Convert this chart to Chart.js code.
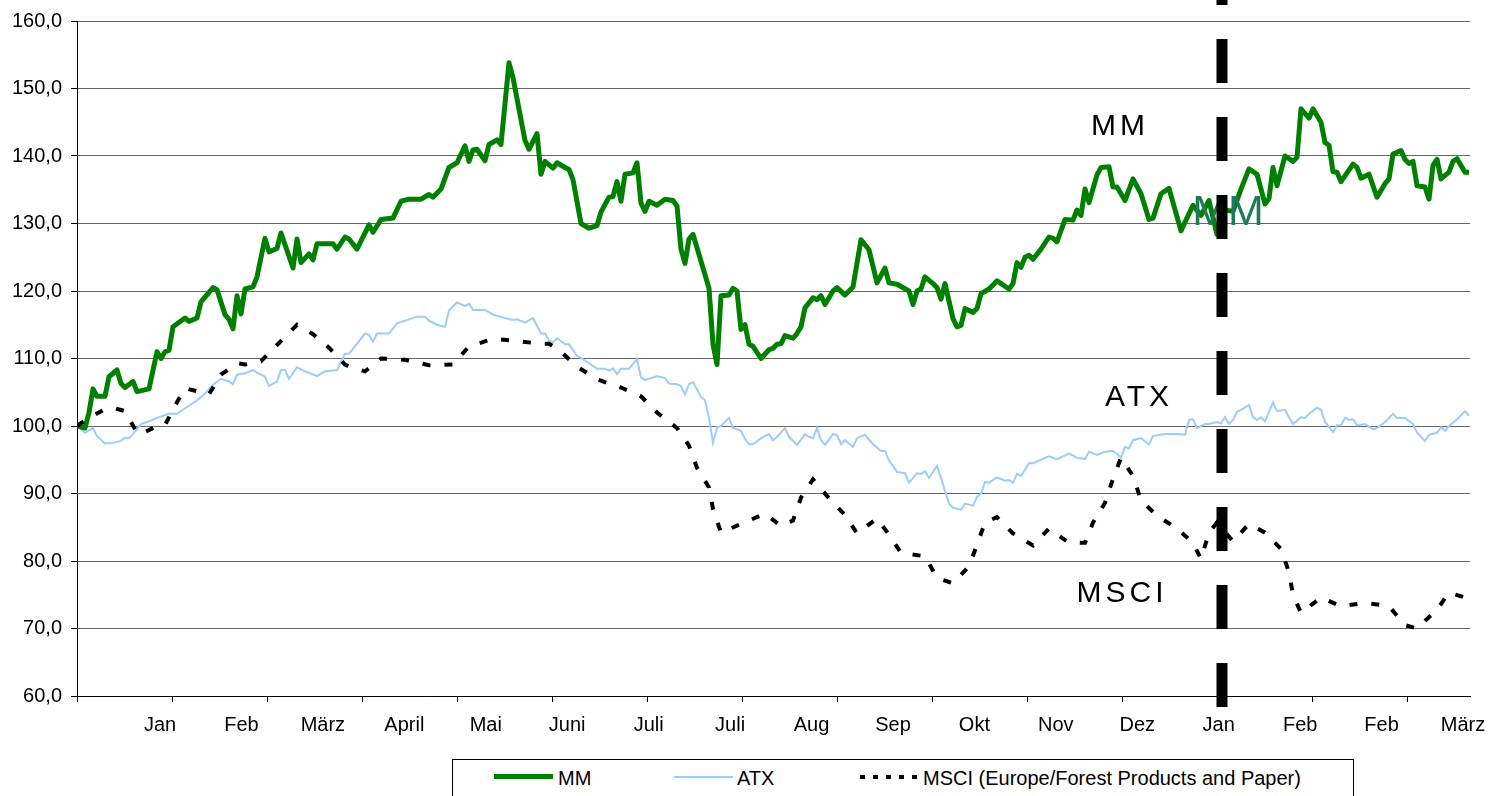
<!DOCTYPE html>
<html>
<head>
<meta charset="utf-8">
<script src="https://cdn.jsdelivr.net/npm/chart.js@4.4.1/dist/chart.umd.min.js"></script>
<style>
  body { margin: 0; background: #fff; }
  #wrap { position: relative; width: 1491px; height: 796px; overflow: hidden; }
  #legend { position: absolute; left: 452px; top: 759px; width: 902px; height: 60px;
            border: 1px solid #000; box-sizing: border-box; background: #fff;
            font-family: "Liberation Sans", Arial, sans-serif; font-size: 20px; color: #000; }
  #legend span { position: absolute; }
  #legend .txt { top: 6px; line-height: 24px; white-space: nowrap; }
</style>
</head>
<body>
<div id="wrap">
  <canvas id="myChart" width="1491" height="796"></canvas>
  <div id="legend">
    <span style="left:41px; top:14px; width:59px; height:5px; background:#008000;"></span>
    <span class="txt" style="left:105px;">MM</span>
    <span style="left:221px; top:16px; width:59px; height:2px; background:#99ccff;"></span>
    <span class="txt" style="left:284px;">ATX</span>
    <span style="left:407px; top:15px; width:58px; height:4px; background:repeating-linear-gradient(to right, #000 0 5px, transparent 5px 13px);"></span>
    <span class="txt" style="left:470px;">MSCI (Europe/Forest Products and Paper)</span>
  </div>
</div>
<script>
var FONT = '"Liberation Sans", Arial, sans-serif';

// x axis: trading-day index, month labels and tick marks
var xLabels = ["Jan", "Feb", "März", "April", "Mai", "Juni", "Juli", "Juli", "Aug", "Sep", "Okt", "Nov", "Dez", "Jan", "Feb", "Feb", "März"];
var LABEL_FIRST = 20.75;
var LABEL_STEP = 20.36;
var TICK_STEP = 23.75;
var DAY_MAX = 348.25;
var SPLIT_DAY = 286.25;

var mmDays = [0,2,3,4,5,7,8,10,11,12,14,15,18,20,21,22,23,24,27,28,30,31,34,35,37,38,39,40,41,42,44,45,47,48,50,51,54,55,56,58,59,60,64,65,67,68,70,73,74,76,79,81,83,86,88,89,91,93,95,97,98,99,100,102,103,105,106,108,109,112,113,115,116,117,119,120,122,123,124,126,128,130,131,133,134,135,136,137,139,140,141,142,143,145,147,149,150,151,152,153,154,157,158,159,160,161,163,164,165,166,167,168,169,171,173,174,175,176,177,179,180,181,182,184,185,186,187,189,190,192,194,196,198,200,202,203,205,208,209,210,211,212,214,215,216,217,219,220,221,222,224,225,226,228,229,230,233,234,235,236,237,238,239,241,243,244,245,247,249,250,251,252,253,255,256,258,259,260,262,264,266,268,269,271,273,276,277,279,281,283,285,287,289,291,293,295,297,298,299,300,302,304,305,306,308,309,311,312,313,314,315,316,319,320,321,323,325,327,328,329,331,332,333,334,335,337,338,339,340,341,343,344,345,347,348];
var mmValues = [100,99.7,102,105.5,104.4,104.4,107.3,108.3,106.3,105.7,106.6,105.1,105.5,111,110,111,111.2,114.7,116,115.5,116,118.4,120.5,120.2,116.5,115.8,114.4,119.3,116.6,120.3,120.6,122.1,127.8,125.8,126.3,128.6,123.4,127.7,124.2,125.5,124.6,127,127,126.2,128,127.7,126.2,129.8,128.7,130.6,130.8,133.3,133.6,133.6,134.3,133.9,135.1,138.3,139,141.5,139.2,140.9,141,139.3,141.7,142.4,141.7,153.8,151.6,142.3,141,143.3,137.3,139.2,138.2,139,138.3,138,136.5,130,129.3,129.7,131.7,133.9,134,136.2,133.3,137.3,137.5,139,133,131.8,133.3,132.7,133.6,133.4,132.6,126.2,124.1,127.7,128.4,122.4,120.4,112.1,109.1,119.3,119.4,120.4,120,114.3,115,112.1,111.8,110,111.3,111.5,112.1,112.2,113.4,113,113.7,114.7,117.5,119,118.7,119.3,118,120,120.5,119.4,120.6,127.6,126.1,121.2,123.4,121.2,121,120,118,120,120.3,122.1,121.1,120.5,118.8,121.1,115.9,114.7,114.9,117.4,116.8,117.4,119.6,120.3,120.9,121.5,120.3,121.1,124.2,123.5,125,125.3,124.7,126.2,128,127.8,127.3,130.6,130.5,132,131.2,135.1,133.1,137.2,138.3,138.4,135.4,135.4,133.4,136.6,134.4,130.6,130.8,134.4,135.2,128.9,130.2,132.7,131.2,133.4,128.4,132,131.8,135.1,138.1,137.3,132.9,133.7,138.3,135.6,140,139.2,139.8,147,145.6,147,145,142,141.6,137.7,137.6,136.2,138.8,138.3,136.7,137.3,133.9,135.9,136.6,140.3,140.8,139.5,138.9,139.2,135.6,135.4,133.6,138.6,139.5,136.6,137.6,139.2,139.6,137.6,137.6];

var atxDays = [0,2,4,5,7,9,11,12,13,15,16,18,20,23,25,28,30,32,34,36,38,39,40,42,44,45,47,48,50,51,52,53,55,57,60,62,65,67,68,70,72,73,74,75,78,80,83,85,87,88,90,92,93,95,97,98,99,102,104,107,109,110,112,114,116,117,118,119,120,122,123,125,126,128,130,132,133,134,135,136,138,140,141,142,145,147,148,150,151,152,153,154,156,157,158,159,160,161,163,164,166,167,168,169,171,173,174,175,177,178,180,182,183,184,185,186,187,189,190,191,192,194,195,197,199,201,202,203,205,207,208,210,211,212,213,215,216,218,219,221,222,224,225,226,227,228,230,232,233,234,235,236,238,239,243,245,248,250,252,253,255,257,259,260,261,262,263,264,266,268,269,272,275,277,278,279,280,282,283,285,286,287,288,289,290,291,293,294,295,296,297,299,300,302,303,304,306,307,308,310,311,312,314,315,316,317,318,319,320,322,324,325,327,329,330,332,334,335,337,338,340,341,342,343,345,347,348];
var atxValues = [100,99,99.7,98.5,97.4,97.5,97.8,98.3,98.2,99.5,100.3,100.7,101.2,101.8,101.8,103,103.8,104.8,106.1,107,106.6,106.2,107.6,107.8,108.3,107.9,107.3,105.9,106.6,108.3,108.3,107,108.7,108.1,107.4,108.1,108.3,110.7,110.7,112.2,113.7,113.5,112.5,113.7,113.7,115.2,115.8,116.2,116.2,115.6,115,114.7,117.1,118.3,117.8,118.1,117.2,117.2,116.5,116,115.7,115.8,115.3,116,113.7,113.7,112.7,112.4,113,112.1,112.1,110.4,110.1,109.3,108.5,108.5,108.2,108.5,107.7,108.5,108.5,109.9,107.2,106.8,107.4,107.1,106.3,106.2,105.9,104.7,106.2,106.5,104.3,103.8,101.2,97.5,99.8,100,101.2,99.7,99.3,98.1,97.3,97.3,98.2,98.8,97.9,98.4,99.7,98.4,97.2,98.8,98.4,98.2,99.7,97.9,97.2,98.8,98.7,97.3,97.9,96.9,98.2,98.7,97.3,96.3,96.3,94.9,93.2,93,91.6,93,92.9,93.3,92.3,94.1,92.3,88.5,87.9,87.6,88.5,88.2,89.5,90,91.7,91.6,92.4,91.9,92,91.6,92.9,92.6,94.5,94.5,95.5,95.1,95.9,95.3,95.1,96.2,95.7,96.2,96.3,95.9,95.3,96.9,96.7,97.9,98.2,97.3,98.5,98.8,98.8,98.7,100.9,101,99.7,100.3,100.3,100.6,100.4,101.3,100.3,100.9,102.1,102.4,103.1,101.3,100.9,101.3,100.7,103.5,102.2,102.4,101.3,100.3,101.3,101.2,101.8,102.7,102.4,100.6,99.1,100.1,100.1,101.2,100.9,101,100.1,100.3,99.5,99.7,100.6,101.8,101.2,101.2,100.3,99,97.8,98.7,99,99.8,99.3,100,101,102.2,101.5];

var msciDays = [0,3,7,9,12,15,16,20,22,24,27,33,36,40,42,46,50,55,59,63,67,68,72,76,82,88,94,98,104,110,111,116,118,121,125,130,136,141,145,150,153,155,158,159,161,166,172,176,179,181,184,188,192,195,200,203,206,212,215,219,223,225,227,230,234,239,243,248,252,254,257,259,261,264,266,270,275,279,281,283,285,289,293,297,301,303,304,306,311,316,322,328,332,335,340,343,347];
var msciValues = [100,101.2,102.5,102.7,102.2,99,98.8,100,100.1,102.5,105.6,104.7,107.6,109.3,109.1,109.6,112,115,113.6,111.6,109.1,108.8,108.1,110,109.8,109,109.1,111.8,112.9,112.6,112.5,112.2,112.2,111,108.8,106.9,105.7,104.4,102,99.7,97.1,93.8,90.9,87.7,84.2,85.5,87,85.2,86,89.4,92.1,89.3,86.8,84.1,86.3,83.9,81.2,80.7,77.5,76.7,79.2,82.4,85.7,86.5,84.1,82.3,84.8,82.7,82.7,85.7,88.6,92.2,95.3,92.6,89,86.7,84.8,82.7,80.3,84.2,85.7,82.9,85.5,84.2,81.8,78.3,75,72.3,74.6,73.3,73.8,73.3,70.5,70,72.8,75.3,74.6];

// text tags placed in the plot (day, value)
var seriesTags = [
  { text: "MM", day: 260.75, value: 144.3, size: 30, spacing: 4, color: "#000" },
  { text: "ATX", day: 265.5, value: 104.25, size: 30, spacing: 4, color: "#000" },
  { text: "MSCI", day: 261.25, value: 75.1, size: 30, spacing: 4, color: "#000" },
  { text: "MM", day: 287.75, value: 131.6, size: 43, spacing: 0, color: "#1f7a58" }
];

var labelPos = xLabels.map(function (l, i) { return LABEL_FIRST + LABEL_STEP * i; });
var tickPos = [0];
for (var k = TICK_STEP; k < DAY_MAX; k += TICK_STEP) tickPos.push(k);
var allTicks = labelPos.concat(tickPos).sort(function (a, b) { return a - b; });

function labelIndex(v) {
  for (var i = 0; i < labelPos.length; i++) {
    if (Math.abs(labelPos[i] - v) < 0.001) return i;
  }
  return -1;
}

function toPoints(days, values) {
  return days.map(function (d, i) { return { x: d, y: values[i] }; });
}

var overlay = {
  id: "overlay",
  afterDatasetsDraw: function (chart) {
    var ctx = chart.ctx;
    var xs = chart.scales.x, ys = chart.scales.y;
    ctx.save();
    ctx.textAlign = "center";
    ctx.textBaseline = "middle";
    seriesTags.forEach(function (t) {
      ctx.font = t.size + "px " + FONT;
      ctx.letterSpacing = t.spacing + "px";
      ctx.fillStyle = t.color;
      ctx.fillText(t.text, xs.getPixelForValue(t.day), ys.getPixelForValue(t.value));
    });
    ctx.letterSpacing = "0px";
    var px = xs.getPixelForValue(SPLIT_DAY);
    ctx.strokeStyle = "#000";
    ctx.lineWidth = 11;
    ctx.setLineDash([44, 34]);
    ctx.beginPath();
    ctx.moveTo(px, chart.chartArea.bottom + 11);
    ctx.lineTo(px, 0);
    ctx.stroke();
    ctx.restore();
  }
};

new Chart("myChart", {
  type: "line",
  data: {
    datasets: [
      { label: "MSCI (Europe/Forest Products and Paper)", data: toPoints(msciDays, msciValues),
        borderColor: "#000", borderWidth: 4, borderDash: [8, 14], borderCapStyle: "butt", order: 0 },
      { label: "MM", data: toPoints(mmDays, mmValues),
        borderColor: "#008000", borderWidth: 5, borderJoinStyle: "round", order: 1 },
      { label: "ATX", data: toPoints(atxDays, atxValues),
        borderColor: "#99ccff", borderWidth: 2, order: 2 }
    ]
  },
  options: {
    responsive: false,
    animation: false,
    layout: { padding: { top: 18, right: 21, left: 0, bottom: 0 } },
    elements: { point: { radius: 0 }, line: { tension: 0, fill: false } },
    plugins: { legend: { display: false }, tooltip: { enabled: false } },
    scales: {
      x: {
        type: "linear",
        min: 0,
        max: DAY_MAX,
        afterBuildTicks: function (s) { s.ticks = allTicks.map(function (v) { return { value: v }; }); },
        afterFit: function (s) { s.height = 100; s.paddingRight = 0; s.paddingLeft = 0; },
        grid: {
          drawOnChartArea: false,
          tickLength: 6,
          tickColor: function (c) { return c.tick && labelIndex(c.tick.value) >= 0 ? "rgba(0,0,0,0)" : "#000"; }
        },
        border: { color: "#000", width: 1 },
        ticks: {
          autoSkip: false,
          maxRotation: 0,
          padding: 11,
          color: "#000",
          font: { family: FONT, size: 20 },
          callback: function (v) { var i = labelIndex(v); return i >= 0 ? xLabels[i] : ""; }
        }
      },
      y: {
        min: 60,
        max: 160,
        afterFit: function (s) { s.width = 77; },
        grid: { color: "#666", tickLength: 6, tickColor: "#000" },
        border: { color: "#000", width: 1 },
        ticks: {
          stepSize: 10,
          padding: 9,
          color: "#000",
          font: { family: FONT, size: 20 },
          callback: function (v) { return v.toFixed(1).replace(".", ","); }
        }
      }
    }
  },
  plugins: [overlay]
});
</script>
</body>
</html>
